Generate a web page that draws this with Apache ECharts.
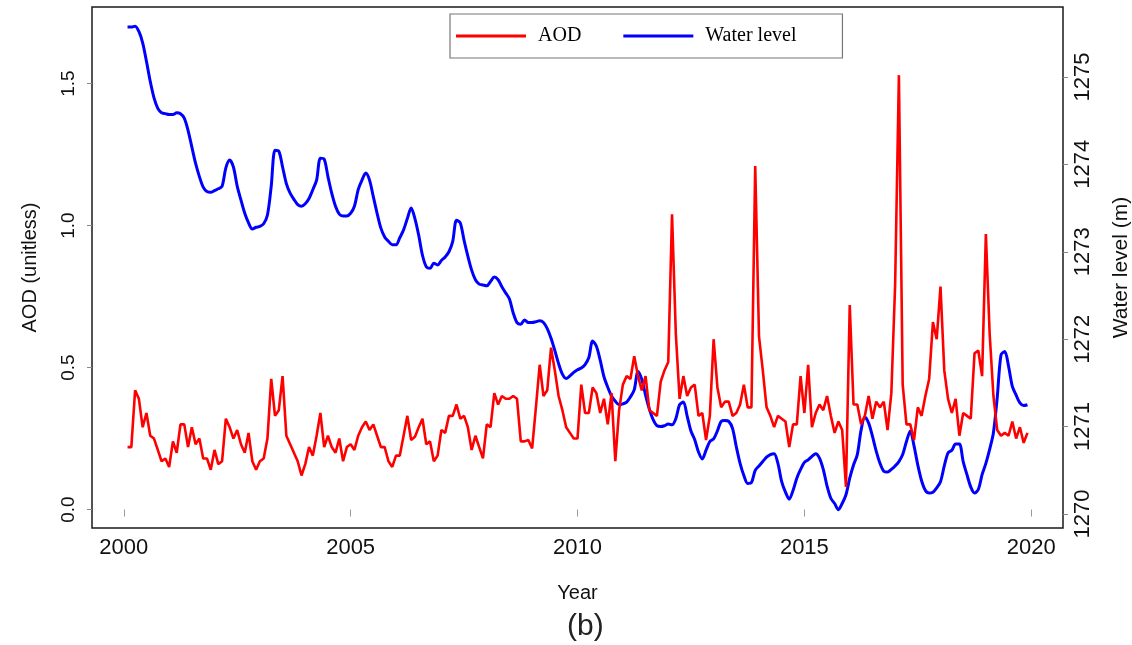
<!DOCTYPE html>
<html>
<head>
<meta charset="utf-8">
<title>AOD and water level, 2000–2019</title>
<script src="https://cdn.jsdelivr.net/npm/echarts@6/dist/echarts.min.js"></script>
<style>
  html, body { margin: 0; padding: 0; background: #fff; }
  #chart { width: 1132px; height: 645px; }
</style>
</head>
<body>
<div id="chart"></div>
<script>
// Monthly series, February 2000 to December 2019
const startYear = 2000;
const startMonth = 2; // February

const seriesNames = ['AOD', 'Water level'];

// Aerosol optical depth (unitless)
const aod = [
  0.22, 0.22, 0.42, 0.39, 0.29, 0.34, 0.26, 0.25, 0.21, 0.17,
  0.18, 0.15, 0.24, 0.20, 0.30, 0.30, 0.22, 0.29, 0.23, 0.25,
  0.18, 0.18, 0.14, 0.21, 0.16, 0.17, 0.32, 0.29, 0.25, 0.28,
  0.23, 0.20, 0.27, 0.17, 0.14, 0.17, 0.18, 0.25, 0.46, 0.33,
  0.35, 0.47, 0.26, 0.23, 0.20, 0.17, 0.12, 0.16, 0.22, 0.19,
  0.26, 0.34, 0.22, 0.26, 0.22, 0.20, 0.25, 0.17, 0.22, 0.23,
  0.21, 0.26, 0.29, 0.31, 0.28, 0.30, 0.26, 0.22, 0.22, 0.17,
  0.15, 0.19, 0.19, 0.26, 0.33, 0.245, 0.256, 0.29, 0.32, 0.23,
  0.24, 0.17, 0.19, 0.28, 0.27, 0.33, 0.33, 0.37, 0.32, 0.33,
  0.29, 0.21, 0.26, 0.22, 0.18, 0.30, 0.29, 0.41, 0.37, 0.40,
  0.39, 0.39, 0.40, 0.39, 0.24, 0.24, 0.245, 0.215, 0.36, 0.51,
  0.40, 0.42, 0.57, 0.49, 0.40, 0.35, 0.29, 0.27, 0.25, 0.25,
  0.44, 0.34, 0.34, 0.43, 0.41, 0.34, 0.39, 0.30, 0.41, 0.17,
  0.35, 0.44, 0.47, 0.46, 0.54, 0.47, 0.42, 0.47, 0.35, 0.34,
  0.33, 0.45, 0.49, 0.52, 1.04, 0.62, 0.39, 0.47, 0.40, 0.43,
  0.44, 0.33, 0.34, 0.245, 0.33, 0.60, 0.43, 0.36, 0.38, 0.38,
  0.33, 0.34, 0.37, 0.44, 0.36, 0.36, 1.21, 0.61, 0.49, 0.36,
  0.33, 0.29, 0.33, 0.32, 0.31, 0.22, 0.30, 0.30, 0.47, 0.34,
  0.51, 0.29, 0.34, 0.37, 0.35, 0.40, 0.33, 0.27, 0.31, 0.28,
  0.08, 0.72, 0.37, 0.37, 0.30, 0.33, 0.40, 0.32, 0.38, 0.36,
  0.38, 0.28, 0.41, 0.79, 1.53, 0.44, 0.30, 0.30, 0.245, 0.36,
  0.33, 0.40, 0.46, 0.66, 0.60, 0.785, 0.49, 0.39, 0.34, 0.39,
  0.26, 0.34, 0.33, 0.32, 0.55, 0.56, 0.47, 0.97, 0.62, 0.40,
  0.28, 0.26, 0.27, 0.26, 0.31, 0.25, 0.29, 0.235, 0.27
];

// Lake water level (m)
const waterLevel = [
  1275.57, 1275.57, 1275.58, 1275.52, 1275.39, 1275.18, 1274.95, 1274.76, 1274.64, 1274.59,
  1274.58, 1274.57, 1274.57, 1274.59, 1274.58, 1274.53, 1274.39, 1274.20, 1274.01, 1273.86,
  1273.74, 1273.69, 1273.68, 1273.70, 1273.72, 1273.75, 1273.96, 1274.05, 1273.97, 1273.75,
  1273.59, 1273.44, 1273.33, 1273.26, 1273.28, 1273.29, 1273.32, 1273.42, 1273.75, 1274.16,
  1274.15, 1273.97, 1273.78, 1273.67, 1273.60, 1273.54, 1273.52, 1273.55, 1273.61, 1273.71,
  1273.82, 1274.07, 1274.06, 1273.86, 1273.67, 1273.52, 1273.43, 1273.41, 1273.41, 1273.44,
  1273.52, 1273.71, 1273.82, 1273.90, 1273.82, 1273.63, 1273.44, 1273.27, 1273.17, 1273.12,
  1273.08, 1273.08, 1273.16, 1273.25, 1273.38, 1273.50, 1273.38, 1273.19, 1272.96, 1272.83,
  1272.81, 1272.87, 1272.85, 1272.90, 1272.94, 1273.00, 1273.12, 1273.36, 1273.33, 1273.13,
  1272.95, 1272.79, 1272.68, 1272.63, 1272.62, 1272.61, 1272.66, 1272.71, 1272.68, 1272.60,
  1272.53, 1272.46, 1272.30, 1272.19, 1272.17, 1272.22, 1272.19, 1272.19, 1272.20, 1272.21,
  1272.19, 1272.12, 1272.01, 1271.87, 1271.72, 1271.60, 1271.55, 1271.58, 1271.62, 1271.65,
  1271.67, 1271.71, 1271.79, 1271.98, 1271.92, 1271.76, 1271.57, 1271.45, 1271.35, 1271.29,
  1271.25, 1271.26, 1271.28, 1271.34, 1271.42, 1271.63, 1271.54, 1271.36, 1271.20, 1271.08,
  1271.01, 1271.00, 1271.01, 1271.03, 1271.02, 1271.09, 1271.25, 1271.28, 1271.12, 1270.95,
  1270.85, 1270.71, 1270.63, 1270.73, 1270.83, 1270.86, 1270.95, 1271.06, 1271.07, 1271.06,
  1270.98, 1270.77, 1270.58, 1270.44, 1270.35, 1270.36, 1270.50, 1270.55, 1270.60, 1270.65,
  1270.68, 1270.69, 1270.58, 1270.37, 1270.25, 1270.17, 1270.27, 1270.41, 1270.51, 1270.59,
  1270.62, 1270.66, 1270.69, 1270.64, 1270.51, 1270.32, 1270.18, 1270.12, 1270.05, 1270.12,
  1270.22, 1270.41, 1270.56, 1270.68, 1270.96, 1271.11, 1271.04, 1270.89, 1270.72, 1270.58,
  1270.49, 1270.48, 1270.51, 1270.55, 1270.60, 1270.68, 1270.83, 1270.95, 1270.78, 1270.56,
  1270.38, 1270.27, 1270.24, 1270.25, 1270.30, 1270.37, 1270.55, 1270.70, 1270.73, 1270.80,
  1270.80, 1270.60, 1270.45, 1270.31, 1270.24, 1270.28, 1270.45, 1270.58, 1270.74, 1270.93,
  1271.33, 1271.82, 1271.86, 1271.69, 1271.46, 1271.36, 1271.27, 1271.24, 1271.25
];

// Tick positions
const yearTicks = [2000, 2005, 2010, 2015, 2020];
const aodTicks = [0, 0.5, 1.0, 1.5];
const levelTicks = [1270, 1271, 1272, 1273, 1274, 1275];

// Decimal year of the n-th monthly record
function decimalYear(n) {
  return startYear + (startMonth - 1 + n) / 12;
}

const aodPoints = aod.map((v, n) => [decimalYear(n), v]);
const levelPoints = waterLevel.map((v, n) => [decimalYear(n), v]);

const sans = 'Liberation Sans, Arial, sans-serif';
const serif = 'Liberation Serif, Times New Roman, serif';

const chart = echarts.init(document.getElementById('chart'), null, { renderer: 'canvas' });

chart.setOption({
  animation: false,
  backgroundColor: '#ffffff',
  grid: {
    left: 92, top: 7, right: 69, bottom: 117,
    outerBoundsMode: 'none',
    containLabel: false,
    show: true, borderColor: '#1a1a1a', borderWidth: 1.5, backgroundColor: 'transparent'
  },
  legend: {
    data: seriesNames,
    left: 450, top: 14,
    padding: [12, 46, 12, 6],
    borderColor: '#777', borderWidth: 1.2,
    itemWidth: 70, itemHeight: 3, itemGap: 42,
    icon: 'rect',
    textStyle: { fontFamily: serif, fontSize: 20, color: '#000', padding: [0, 0, 0, 7] }
  },
  xAxis: {
    type: 'value',
    min: 1999.3, max: 2020.7,
    name: 'Year', nameLocation: 'middle', nameGap: 55,
    nameTextStyle: { fontFamily: sans, fontSize: 20, color: '#111' },
    axisLine: { show: false },
    splitLine: { show: false },
    axisTick: { show: true, length: 7, lineStyle: { color: '#999', width: 1 }, customValues: yearTicks },
    axisLabel: { fontFamily: sans, fontSize: 22, color: '#111', margin: 9, customValues: yearTicks,
      formatter: v => String(v) }
  },
  yAxis: [
    {
      type: 'value', position: 'left',
      min: -0.065, max: 1.77,
      name: 'AOD (unitless)', nameLocation: 'middle', nameGap: 52, nameRotate: 90,
      nameTextStyle: { fontFamily: sans, fontSize: 20, color: '#111' },
      axisLine: { show: false },
      splitLine: { show: false },
      axisTick: { show: true, length: 5, lineStyle: { color: '#888', width: 1 }, customValues: aodTicks },
      axisLabel: { fontFamily: sans, fontSize: 19, color: '#111', rotate: 90, margin: 14,
        customValues: aodTicks, formatter: v => v.toFixed(1) }
    },
    {
      type: 'value', position: 'right',
      min: 1269.84, max: 1275.8,
      name: 'Water level (m)', nameLocation: 'middle', nameGap: 48, nameRotate: 90,
      nameTextStyle: { fontFamily: sans, fontSize: 21, color: '#111' },
      axisLine: { show: false },
      splitLine: { show: false },
      axisTick: { show: true, length: 5, lineStyle: { color: '#888', width: 1 }, customValues: levelTicks },
      axisLabel: { fontFamily: sans, fontSize: 22, color: '#111', rotate: 90, margin: 9,
        customValues: levelTicks, formatter: v => String(Math.round(v)) }
    }
  ],
  series: [
    {
      name: seriesNames[0], type: 'line', yAxisIndex: 0,
      data: aodPoints, symbol: 'none', smooth: false,
      lineStyle: { color: '#ff0000', width: 2.6 }, itemStyle: { color: '#ff0000' },
      z: 3
    },
    {
      name: seriesNames[1], type: 'line', yAxisIndex: 1,
      data: levelPoints, symbol: 'none', smooth: 0.3,
      lineStyle: { color: '#0000ff', width: 3 }, itemStyle: { color: '#0000ff' },
      z: 2
    }
  ],
  graphic: [
    {
      type: 'text', left: 567, top: 612,
      style: { text: '(b)', fontFamily: sans, fontSize: 30, fill: '#222' }
    }
  ]
});
</script>
</body>
</html>
